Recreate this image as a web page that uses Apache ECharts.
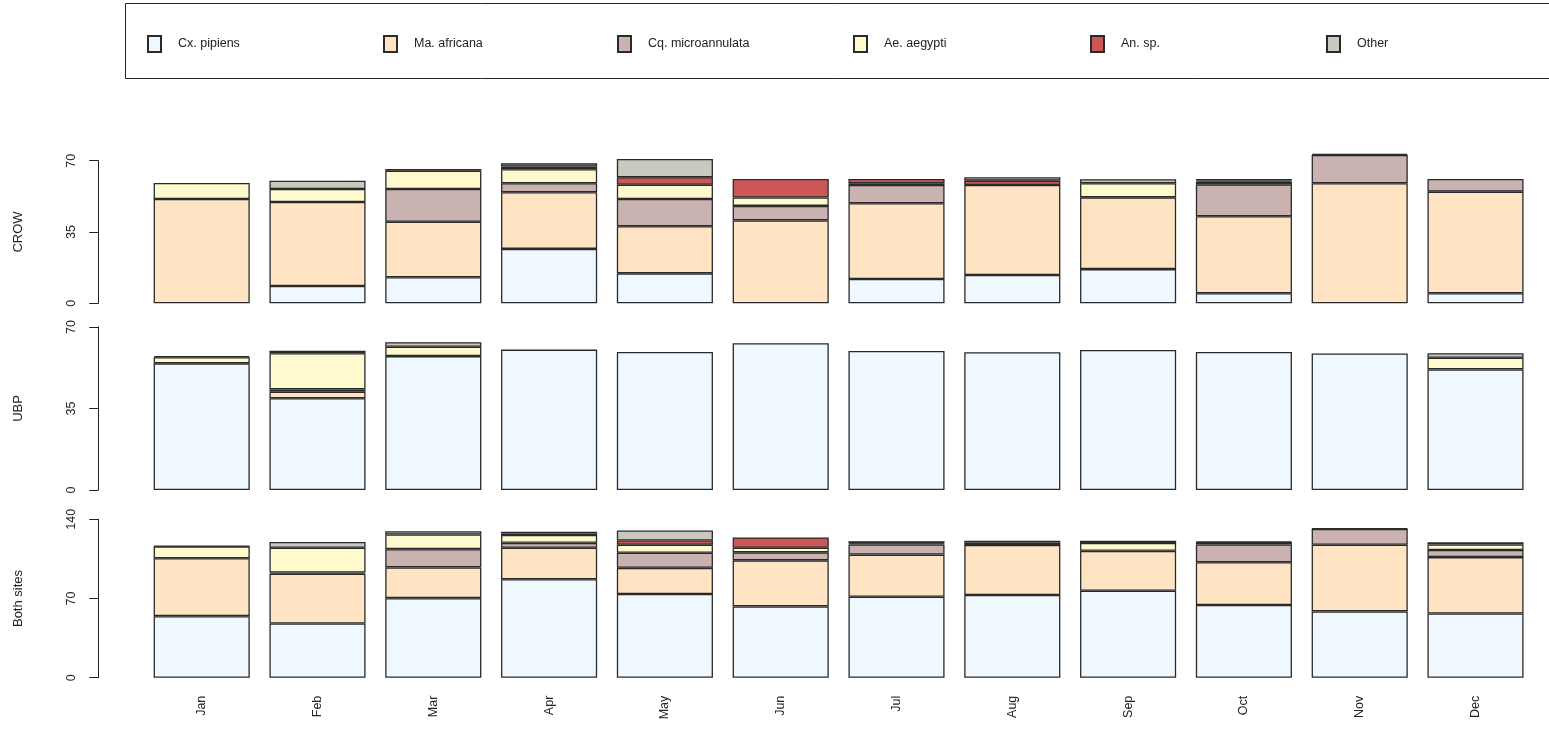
<!DOCTYPE html>
<html>
<head>
<meta charset="utf-8">
<script src="https://cdn.jsdelivr.net/npm/echarts@6/dist/echarts.min.js"></script>
<style>
  html, body { margin: 0; padding: 0; background: #fff; }
  #chart { width: 1549px; height: 734px; }
</style>
</head>
<body>
<div id="chart"></div>
<script>
// months and species
const months = ["Jan", "Feb", "Mar", "Apr", "May", "Jun", "Jul", "Aug", "Sep", "Oct", "Nov", "Dec"];
const species = ["Cx. pipiens", "Ma. africana", "Cq. microannulata", "Ae. aegypti", "An. sp.", "Other"];
const colors = ["#F0F8FF", "#FFE4C4", "#C9B2B0", "#FFFACD", "#CD5757", "#C9C9C0"];

// CROW site counts
const crowCx    = [0, 8.5, 12.8, 26.7, 14.7, 0, 11.9, 13.9, 16.8, 4.9, 0, 4.9];
const crowMa    = [51.2, 41.2, 27.2, 27.8, 23.1, 40.7, 37.2, 44.2, 35.2, 37.8, 58.9, 49.9];
const crowCq    = [0, 0, 16.1, 4.4, 13.4, 7.1, 9.0, 0, 0, 15.7, 13.9, 6.2];
const crowAe    = [7.9, 6.4, 9.0, 6.9, 7.0, 4.1, 0.8, 0, 6.9, 1.3, 0, 0];
const crowAn    = [0, 0, 0, 1.3, 3.7, 9.1, 2.1, 2.1, 0, 0.6, 0, 0];
const crowOther = [0, 4.1, 0.8, 1.6, 8.9, 0, 0, 1.7, 2.0, 0.7, 0.5, 0];

// UBP site counts
const ubpCx    = [54.4, 39.4, 57.5, 60.3, 59.3, 63.0, 59.7, 59.2, 60.1, 59.3, 58.6, 51.8];
const ubpMa    = [0, 2.8, 0, 0, 0, 0, 0, 0, 0, 0, 0, 0];
const ubpCq    = [0, 1.0, 0, 0, 0, 0, 0, 0, 0, 0, 0, 0];
const ubpAe    = [2.6, 15.5, 4.0, 0, 0, 0, 0, 0, 0, 0, 0, 5.0];
const ubpAn    = [0, 0, 0, 0, 0, 0, 0, 0, 0, 0, 0, 0];
const ubpOther = [0.5, 1.1, 2.0, 0, 0, 0, 0, 0, 0, 0, 0, 1.9];

const crow = [crowCx, crowMa, crowCq, crowAe, crowAn, crowOther];
const ubp = [ubpCx, ubpMa, ubpCq, ubpAe, ubpAn, ubpOther];
// both sites = sum of the two
const both = crow.map((arr, i) => arr.map((v, j) => +(v + ubp[i][j]).toFixed(1)));

const panels = [
  { name: "CROW", max: 70, interval: 35, top: 160.7, height: 142.6, data: crow },
  { name: "UBP", max: 70, interval: 35, top: 327, height: 163, data: ubp },
  { name: "Both sites", max: 140, interval: 70, top: 519.3, height: 158.4, data: both },
];

const font = "Liberation Sans, Arial, sans-serif";
const gridLeft = 143.8, gridWidth = 1389.6;

let grid = [], xAxis = [], yAxis = [], series = [];
panels.forEach((p, k) => {
  grid.push({ left: gridLeft, width: gridWidth, top: p.top, height: p.height });
  xAxis.push({
    type: "category", gridIndex: k, data: months,
    axisLine: { show: false }, axisTick: { show: false },
    axisLabel: {
      show: k === 2, rotate: 90, margin: 18, fontSize: 12.5,
      color: "#222", fontFamily: font, interval: 0,
    },
  });
  yAxis.push({
    type: "value", gridIndex: k, min: 0, max: p.max, interval: p.interval,
    offset: 45.5,
    name: p.name, nameLocation: "middle", nameGap: 73, nameRotate: 90,
    nameTextStyle: { fontSize: 13, color: "#222", fontFamily: font },
    splitLine: { show: false },
    axisLine: { show: true, lineStyle: { color: "#222", width: 1 } },
    axisTick: { show: true, length: 9, lineStyle: { color: "#222" } },
    axisLabel: { rotate: 90, margin: 20, fontSize: 12.5, color: "#222", fontFamily: font },
  });
  species.forEach((s, i) => {
    series.push({
      name: s, type: "bar", xAxisIndex: k, yAxisIndex: k,
      stack: "p" + k, barCategoryGap: "17%", clip: false,
      itemStyle: { color: colors[i], borderColor: "#2a2a2a", borderWidth: 1.3 },
      emphasis: { disabled: true },
      // empty segments are left out so they don't add extra outlines
      data: p.data[i].map(v => (v === 0 ? "-" : v)),
    });
  });
});

// one legend per entry, evenly spaced like the original
const legendX = [147, 383, 617, 853, 1090, 1326];
const legend = species.map((s, i) => ({
  data: [s], left: legendX[i], top: 35, padding: 0,
  icon: "rect", itemWidth: 13, itemHeight: 16, selectedMode: false,
  textStyle: { fontSize: 12.5, color: "#222", fontFamily: font, padding: [0, 0, 0, 12] },
}));

const myChart = echarts.init(document.getElementById("chart"));
myChart.setOption({
  animation: false,
  backgroundColor: "#fff",
  graphic: [{
    type: "rect", silent: true,
    shape: { x: 125.5, y: 3.5, width: 1500, height: 75 },
    style: { fill: "none", stroke: "#222", lineWidth: 1 },
  }],
  legend: legend,
  grid: grid,
  xAxis: xAxis,
  yAxis: yAxis,
  series: series,
});
</script>
</body>
</html>
